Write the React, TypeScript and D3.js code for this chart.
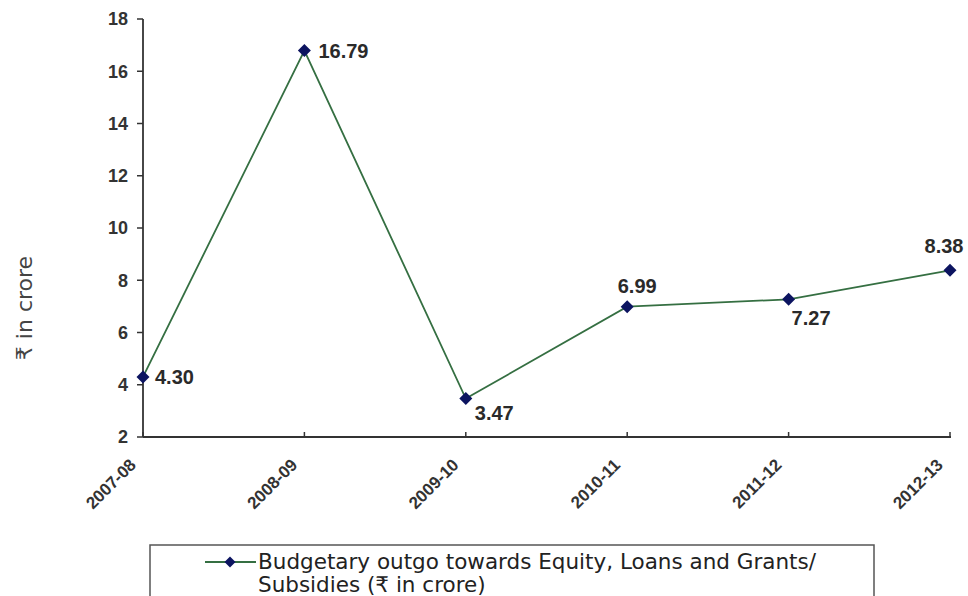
import React from "react";
import * as d3 from "d3";

const categories = ["2007-08", "2008-09", "2009-10", "2010-11", "2011-12", "2012-13"];
const values = [4.3, 16.79, 3.47, 6.99, 7.27, 8.38];
const valueLabels = ["4.30", "16.79", "3.47", "6.99", "7.27", "8.38"];
const yTicks = [2, 4, 6, 8, 10, 12, 14, 16, 18];
const yAxisTitle = "₹ in crore";
const legendLines = ["Budgetary outgo towards Equity, Loans and Grants/", "Subsidies (₹ in crore)"];
// label placement: [dx, dy, anchor]
const labelPos: [number, number, string][] = [
  [12, 7, "start"],
  [14, 7, "start"],
  [9, 21, "start"],
  [10, -14, "middle"],
  [3, 26, "start"],
  [-6, -17, "middle"],
];

const W = 968;
const H = 596;
const left = 143;
const right = 950;
const top = 19;
const bottom = 437;

function diamondPath(r: number) {
  const p = d3.path();
  p.moveTo(0, -r);
  p.lineTo(r, 0);
  p.lineTo(0, r);
  p.lineTo(-r, 0);
  p.closePath();
  return p.toString();
}

export default function App() {
  const x = d3.scalePoint<string>().domain(categories).range([left, right]).padding(0);
  const y = d3.scaleLinear().domain([2, 18]).range([bottom, top]);
  const line = d3
    .line<number>()
    .x((_, i) => x(categories[i]) as number)
    .y((d) => y(d));
  const diamond = diamondPath(6.5);
  const diamondSmall = diamondPath(5.5);
  const axisColor = "#333";
  const lineColor = "#356f42";
  const markerColor = "#0c1460";
  const labelColor = "#2a2a2a";

  return (
    <svg
      width={W}
      height={H}
      style={{ position: "absolute", left: 0, top: 0, background: "#fff" }}
      fontFamily="'Liberation Sans', Arial, sans-serif"
    >
      <rect x={0} y={0} width={W} height={H} fill="#fff" />
      {/* y axis */}
      <line x1={left} x2={left} y1={top} y2={bottom} stroke={axisColor} strokeWidth={1.8} />
      {yTicks.map((t) => (
        <g key={t}>
          <line x1={left - 6} x2={left} y1={y(t)} y2={y(t)} stroke={axisColor} strokeWidth={1.5} />
          <text
            x={left - 15}
            y={y(t)}
            dy="0.36em"
            textAnchor="end"
            fontSize={18}
            fontWeight="bold"
            fill="#333"
          >
            {t}
          </text>
        </g>
      ))}
      {/* x axis */}
      <line x1={left} x2={right + 1} y1={bottom} y2={bottom} stroke={axisColor} strokeWidth={1.8} />
      {categories.map((c) => {
        const cx = x(c) as number;
        return (
          <g key={c}>
            <line x1={cx} x2={cx} y1={bottom} y2={bottom - 5} stroke={axisColor} strokeWidth={1.5} />
            <text
              transform={`translate(${cx - 6},${bottom + 29}) rotate(-45)`}
              textAnchor="end"
              fontSize={17}
              fontWeight="bold"
              fill="#333"
            >
              {c}
            </text>
          </g>
        );
      })}
      {/* y axis title */}
      <text
        transform={`translate(32,${308}) rotate(-90)`}
        textAnchor="middle"
        fontSize={22}
        fill="#444"
        fontFamily="'DejaVu Sans', 'Noto Sans', sans-serif"
      >
        {yAxisTitle}
      </text>
      {/* line */}
      <path d={line(values) || ""} fill="none" stroke={lineColor} strokeWidth={1.8} />
      {values.map((v, i) => (
        <path
          key={i}
          d={diamond}
          transform={`translate(${x(categories[i])},${y(v)})`}
          fill={markerColor}
        />
      ))}
      {values.map((v, i) => (
        <text
          key={"l" + i}
          x={(x(categories[i]) as number) + labelPos[i][0]}
          y={y(v) + labelPos[i][1]}
          textAnchor={labelPos[i][2] as any}
          fontSize={20}
          fontWeight="bold"
          fill={labelColor}
        >
          {valueLabels[i]}
        </text>
      ))}
      {/* legend */}
      <rect x={150} y={545} width={724} height={70} fill="#fff" stroke="#555" strokeWidth={1.5} />
      <line x1={205} x2={256} y1={562} y2={562} stroke={lineColor} strokeWidth={1.8} />
      <path d={diamondSmall} transform="translate(230,562)" fill={markerColor} />
      {legendLines.map((t, i) => (
        <text
          key={t}
          x={258}
          y={569 + i * 23}
          fontSize={21.5}
          fill="#222"
          fontFamily="'DejaVu Sans', 'Noto Sans', sans-serif"
        >
          {t}
        </text>
      ))}
    </svg>
  );
}
